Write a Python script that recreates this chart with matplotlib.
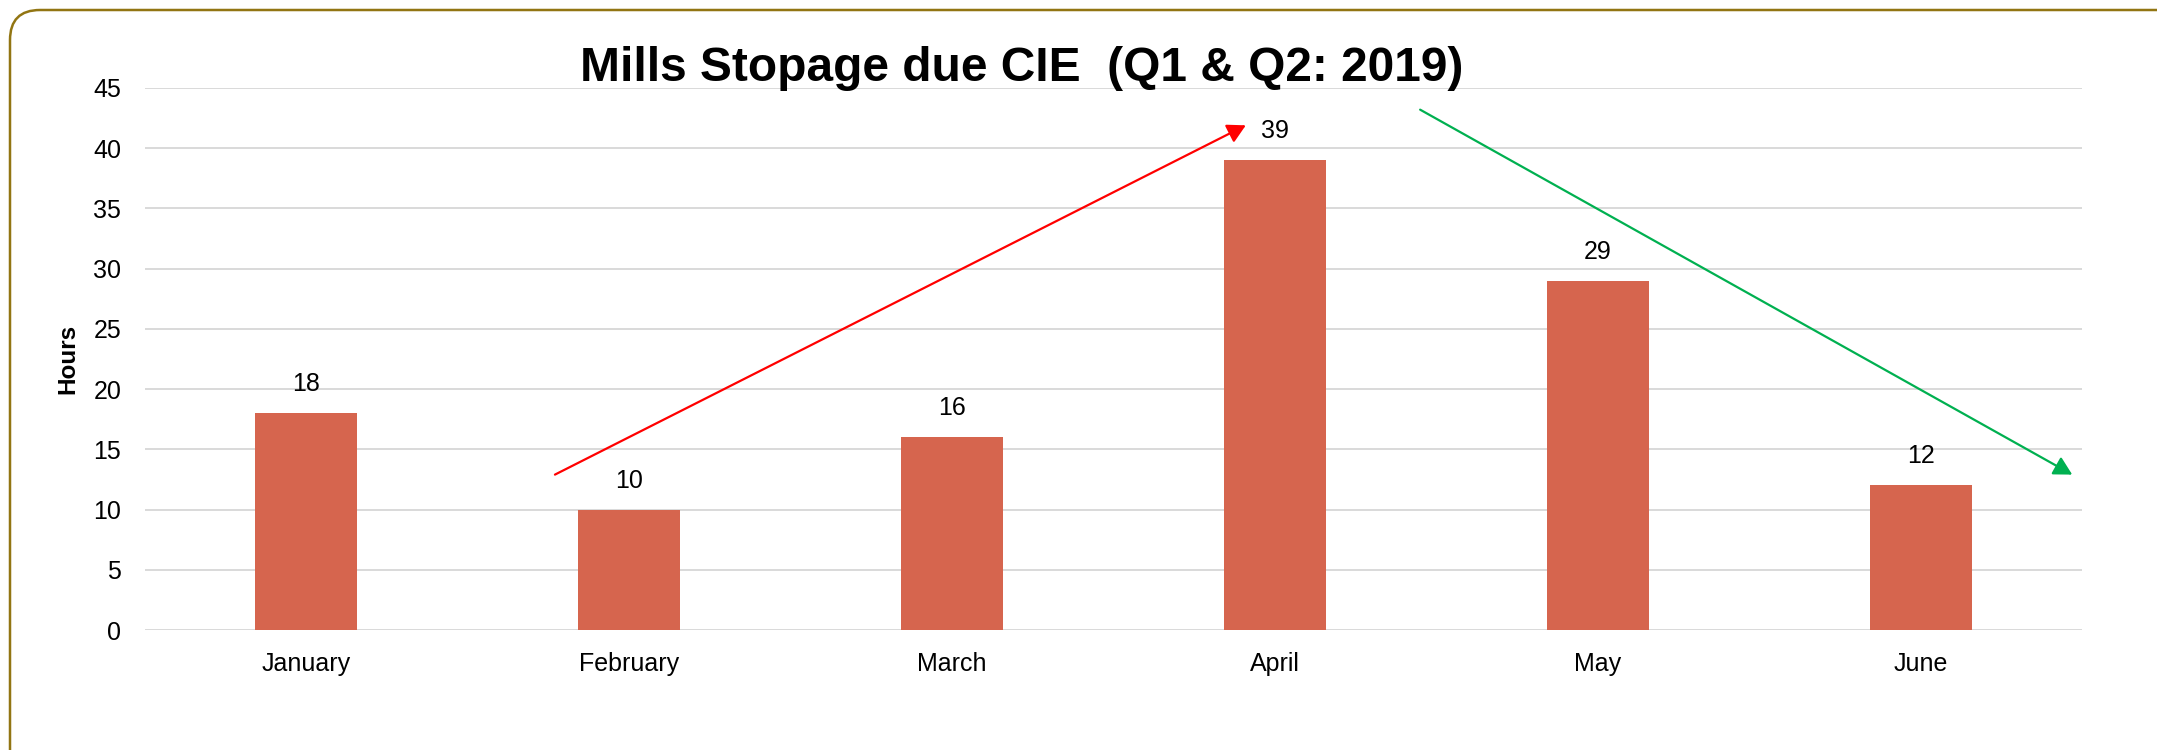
import matplotlib
matplotlib.use("Agg")
import matplotlib.pyplot as plt
from matplotlib.patches import FancyBboxPatch

# data
months = ["January", "February", "March", "April", "May", "June"]
hours = [18, 10, 16, 39, 29, 12]
y_ticks = [0, 5, 10, 15, 20, 25, 30, 35, 40, 45]

# trend arrows (data coords: start -> end)
up_arrow = ((0.77, 12.9), (2.91, 41.9))
down_arrow = ((3.45, 43.2), (5.47, 12.9))

plt.rcParams['font.family'] = ['Liberation Sans', 'DejaVu Sans']

fig = plt.figure(figsize=(21.57, 7.5), dpi=100)
ax = fig.add_axes([0.0672, 0.16, 0.898, 0.7227])

x = list(range(len(months)))
ax.bar(x, hours, width=0.316, color='#D6654E', zorder=3)

for xi, v in zip(x, hours):
    ax.annotate(str(v), (xi, v), xytext=(0, 17), textcoords='offset pixels',
                ha='center', va='bottom', fontsize=18, color='#000000')

ax.set_xlim(-0.5, len(months) - 0.5)
ax.set_ylim(0, 45)
ax.set_yticks(y_ticks)
ax.set_xticks(x)
ax.set_xticklabels(months)
ax.tick_params(axis='both', length=0, labelsize=18, colors='#000000')
ax.tick_params(axis='y', pad=17)
ax.tick_params(axis='x', pad=16)
ax.grid(axis='y', color='#D9D9D9', linewidth=1.4, zorder=0)
for s in ax.spines.values():
    s.set_visible(False)

ax.set_ylabel("Hours", fontsize=17.5, fontweight='bold', labelpad=10)

fig.text(0.4735, 0.892, "Mills Stopage due CIE  (Q1 & Q2: 2019)", ha='center',
         va='baseline', fontsize=34.5, fontweight='bold')

ax.annotate("", xy=up_arrow[1], xytext=up_arrow[0], annotation_clip=False,
            arrowprops=dict(arrowstyle='-|>,head_length=1.1,head_width=0.6',
                            color='#FF0000', lw=1.6, shrinkA=0, shrinkB=0))
ax.annotate("", xy=down_arrow[1], xytext=down_arrow[0], annotation_clip=False,
            arrowprops=dict(arrowstyle='-|>,head_length=1.1,head_width=0.6',
                            color='#00B050', lw=1.6, shrinkA=0, shrinkB=0))

# rounded frame (runs off right and bottom edges)
frame = FancyBboxPatch((0.10, -0.5), 22.0, 7.9,
                       boxstyle="round,pad=0,rounding_size=0.3",
                       transform=fig.dpi_scale_trans, fill=False,
                       edgecolor='#927512', linewidth=1.8, clip_on=False)
fig.patches.append(frame)

fig.savefig("out.png", dpi=100)
